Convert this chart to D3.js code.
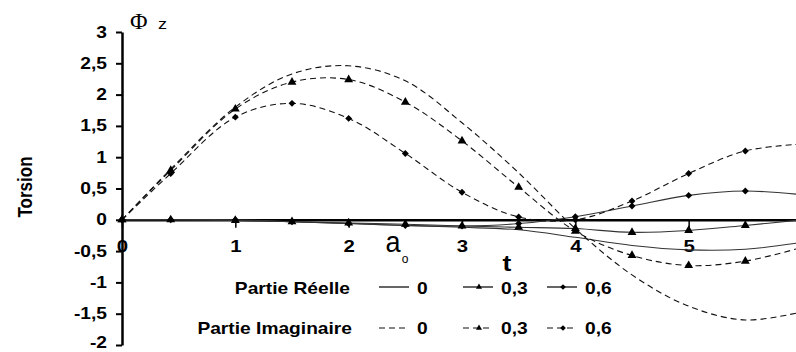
<!DOCTYPE html>
<html>
<head>
<meta charset="utf-8">
<script src="https://cdn.jsdelivr.net/npm/d3@7"></script>
<style>
  body { margin: 0; background: #fff; }
  svg { display: block; }
</style>
</head>
<body>
<div id="chart"></div>
<script>
// valeurs de t (abscisse)
const tValues = [0, 0.43, 1, 1.5, 2, 2.5, 3, 3.5, 4, 4.5, 5, 5.5, 6];

// Partie réelle
const reel0 = [0, 0, -0.01, -0.03, -0.06, -0.09, -0.12, -0.16, -0.28, -0.41, -0.48, -0.47, -0.36];
const reel03 = [0, 0, -0.01, -0.03, -0.05, -0.07, -0.1, -0.12, -0.14, -0.2, -0.17, -0.09, 0.0];
const reel06 = [0, 0, 0, -0.03, -0.06, -0.09, -0.1, -0.06, 0.05, 0.22, 0.39, 0.46, 0.4];

// Partie imaginaire
const imag0 = [0, 0.81, 1.8, 2.33, 2.46, 2.22, 1.55, 0.75, -0.14, -0.88, -1.38, -1.6, -1.47];
const imag03 = [0, 0.79, 1.77, 2.2, 2.24, 1.88, 1.26, 0.52, -0.18, -0.57, -0.73, -0.66, -0.44];
const imag06 = [0, 0.74, 1.64, 1.86, 1.62, 1.06, 0.44, 0.045, 0.0, 0.3, 0.74, 1.1, 1.21];

const yTicks = [-2, -1.5, -1, -0.5, 0, 0.5, 1, 1.5, 2, 2.5, 3];
const xTicks = [0, 1, 2, 3, 4, 5];
const legendLabels = ["0", "0,3", "0,6"];

const width = 796, height = 352;
const font = "'Liberation Sans', Arial, sans-serif";
const sx = 1.2; // texte un peu étiré horizontalement

// losange "carré tourné", plus proche des marqueurs d'origine
const losange = {
  draw(ctx, size) {
    const r = Math.sqrt(size / 2);
    ctx.moveTo(0, -r);
    ctx.lineTo(r, 0);
    ctx.lineTo(0, r);
    ctx.lineTo(-r, 0);
    ctx.closePath();
  },
};

const series = [
  { values: reel0, dash: null, marker: null },
  { values: reel03, dash: null, marker: d3.symbolTriangle },
  { values: reel06, dash: null, marker: losange },
  { values: imag0, dash: "6,4", marker: null },
  { values: imag03, dash: "6,4", marker: d3.symbolTriangle },
  { values: imag06, dash: "6,4", marker: losange },
];

const svg = d3.select("#chart").append("svg")
  .attr("width", width)
  .attr("height", height);

const x = d3.scaleLinear().domain([0, 6]).range([122, 802]);
const y = d3.scaleLinear().domain([-2, 3]).range([345, 32]);

const fr = d3.formatLocale({ decimal: ",", thousands: " ", grouping: [3], currency: ["", ""], minus: "-" });
const fmt = fr.format(".1~f");

function label(px, py, s, o) {
  o = o || {};
  return svg.append("text")
    .attr("transform", `translate(${px},${py}) scale(${o.sx || 1},1)`)
    .attr("text-anchor", o.anchor || "start")
    .style("font-family", o.family || font)
    .style("font-weight", o.weight || "bold")
    .style("font-size", (o.size || 16) + "px")
    .attr("fill", "#000")
    .text(s);
}

// Axe Y
const yAxis = svg.append("g")
  .attr("transform", `translate(${x(0)},0)`)
  .call(d3.axisLeft(y).tickValues(yTicks).tickFormat(fmt).tickSize(6).tickSizeOuter(0));
yAxis.select(".domain").attr("stroke-width", 2.5);
yAxis.selectAll(".tick line").attr("stroke-width", 2);
yAxis.selectAll(".tick text")
  .attr("x", null).attr("dy", null)
  // le dernier libellé (-2) touche le bord : on le remonte un peu
  .attr("transform", (d) => `translate(-15,${d === -2 ? 2 : 5}) scale(${sx},1)`)
  .style("font-family", font).style("font-weight", "bold").style("font-size", "16px");

// Axe X
const xAxis = svg.append("g")
  .attr("transform", `translate(0,${y(0)})`)
  .call(d3.axisBottom(x).tickValues(xTicks).tickFormat(fmt).tickSize(8).tickSizeOuter(0));
xAxis.select(".domain").attr("stroke-width", 2.5);
xAxis.selectAll(".tick line").attr("stroke-width", 1.5);
xAxis.selectAll(".tick text")
  .attr("y", null).attr("dy", null)
  .attr("transform", `translate(0,32) scale(${sx},1)`)
  .style("font-family", font).style("font-weight", "bold").style("font-size", "17px");

// Courbes
const line = d3.line()
  .x((d, i) => x(tValues[i]))
  .y((d) => y(d))
  .curve(d3.curveCatmullRom);

for (const s of series) {
  svg.append("path")
    .datum(s.values)
    .attr("fill", "none")
    .attr("stroke", s.dash ? "#111" : "#333")
    .attr("stroke-width", 1.1)
    .attr("stroke-dasharray", s.dash)
    .attr("d", line);
}

for (const s of series) {
  if (!s.marker) continue;
  svg.append("g").selectAll("path")
    .data(s.values)
    .enter()
    .append("path")
    .attr("transform", (d, i) => `translate(${x(tValues[i])},${y(d)})`)
    .attr("d", d3.symbol().type(s.marker).size(s.marker === d3.symbolTriangle ? 34 : 24))
    .attr("fill", "#000");
}

// Titres
label(130, 29, "Φ", { family: "'Liberation Serif', 'Times New Roman', serif", weight: "normal", size: 24 });
label(158, 29, "z", { weight: "normal", size: 15, sx: sx });
svg.append("text")
  .attr("transform", "translate(32,187) scale(1.2,1) rotate(-90)")
  .attr("text-anchor", "middle")
  .style("font-family", font).style("font-weight", "bold").style("font-size", "17px")
  .text("Torsion");
label(507, 271, "t", { size: 22, anchor: "middle", sx: sx });
label(393, 252, "a", { weight: "normal", size: 30, anchor: "middle", sx: 0.9 });
label(405, 263, "o", { weight: "normal", size: 12, anchor: "middle" });

// Légende
label(350, 294, "Partie Réelle", { anchor: "end", sx: sx });
label(352, 334, "Partie Imaginaire", { anchor: "end", sx: sx });

const legendX = [379, 463, 547];
const rows = [
  { y: 287, ty: 294, dash: null, items: series.slice(0, 3) },
  { y: 328, ty: 334, dash: "6,4", items: series.slice(3, 6) },
];
for (const r of rows) {
  r.items.forEach((s, i) => {
    const lx = legendX[i];
    svg.append("line")
      .attr("x1", lx).attr("x2", lx + 30)
      .attr("y1", r.y).attr("y2", r.y)
      .attr("stroke", r.dash ? "#111" : "#666")
      .attr("stroke-width", r.dash ? 1.1 : 2)
      .attr("stroke-dasharray", r.dash ? "6,4" : null);
    if (s.marker) {
      svg.append("path")
        .attr("transform", `translate(${lx + 16},${r.y})`)
        .attr("d", d3.symbol().type(s.marker).size(16))
        .attr("fill", "#000");
    }
    label(lx + 38, r.ty, legendLabels[i], { sx: sx });
  });
}
</script>
</body>
</html>
